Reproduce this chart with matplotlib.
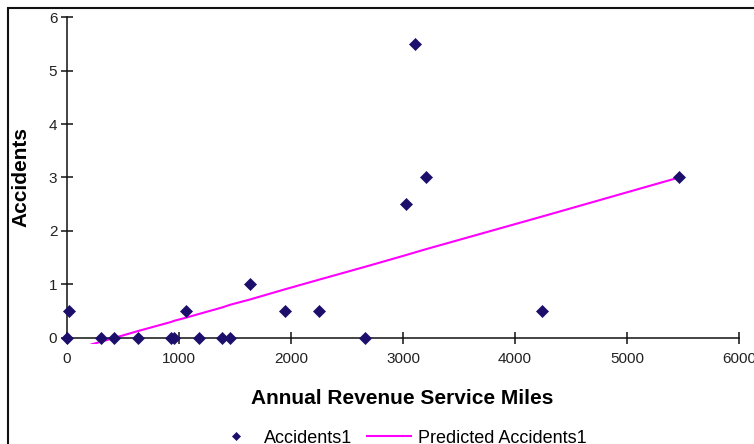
import matplotlib.pyplot as plt
from matplotlib.patches import Rectangle

plt.rcParams['font.family'] = ['Liberation Sans', 'DejaVu Sans']

# data
miles = [0, 20, 303, 420, 634, 930, 955, 1062, 1180, 1384, 1455, 1634,
         1946, 2250, 2660, 3027, 3107, 3205, 4241, 5464]
accidents = [0, 0.5, 0, 0, 0, 0, 0, 0.5, 0, 0, 0, 1,
             0.5, 0.5, 0, 2.5, 5.5, 3, 0.5, 3]
predicted = [-0.25, -0.24, -0.07, 0.00, 0.13, 0.30, 0.32, 0.38, 0.45, 0.57,
             0.62, 0.72, 0.91, 1.09, 1.33, 1.55, 1.60, 1.66, 2.27, 3.00]
x_ticks = [0, 1000, 2000, 3000, 4000, 5000, 6000]
y_ticks = [0, 1, 2, 3, 4, 5, 6]

W, H = 754, 444
fig = plt.figure(figsize=(W / 100, H / 100), dpi=100)
ax = fig.add_axes([67 / W, 0.2243, (739 - 67) / W, 0.7374])

ax.plot(miles, predicted, color='#ff00ff', lw=1.5, label='Predicted Accidents1', zorder=2)
ax.plot(miles, accidents, ls='none', marker='D', ms=6, color='#1c0f6b',
        mec='#1c0f6b', mew=0.5, clip_on=False, label='Accidents1', zorder=3)

ax.set_xlim(0, 6000)
ax.set_ylim(-0.12, 6)
ax.set_xticks(x_ticks)
ax.set_yticks(y_ticks)

for side in ['top', 'right']:
    ax.spines[side].set_visible(False)
ax.spines['bottom'].set_position(('data', 0))
ax.spines['left'].set_bounds(0, 6)
for side in ['bottom', 'left']:
    ax.spines[side].set_linewidth(1.1)
    ax.spines[side].set_color('#111111')

ax.tick_params(direction='inout', length=8, width=1.1, colors='#111111',
               labelsize=11, labelcolor='#222222')
ax.tick_params(axis='x', pad=6)
ax.tick_params(axis='y', pad=3)

ax.set_xlabel('Annual Revenue Service Miles', fontsize=15, fontweight='bold')
ax.xaxis.label.set_va('center')
ax.xaxis.set_label_coords(0.4985, -0.164)
ax.set_ylabel('Accidents', fontsize=15, fontweight='bold')
ax.yaxis.label.set_va('center')
ax.yaxis.set_label_coords(-0.069, 0.511)

handles, labels = ax.get_legend_handles_labels()
fig.legend(handles[::-1], labels[::-1], loc='center', ncol=2,
           bbox_to_anchor=(400 / W, 1 - 438 / H), frameon=False,
           fontsize=13, handlelength=2.45, handletextpad=0.35,
           columnspacing=0.8, markerscale=0.75)

# chart area border, cut off at right and bottom in the screenshot
fig.patches.append(Rectangle((8 / W, -0.1), 2, 1 - 8 / H + 0.1,
                             transform=fig.transFigure, fill=False,
                             ec='#111111', lw=1.5))

fig.savefig('out.png', dpi=100)
